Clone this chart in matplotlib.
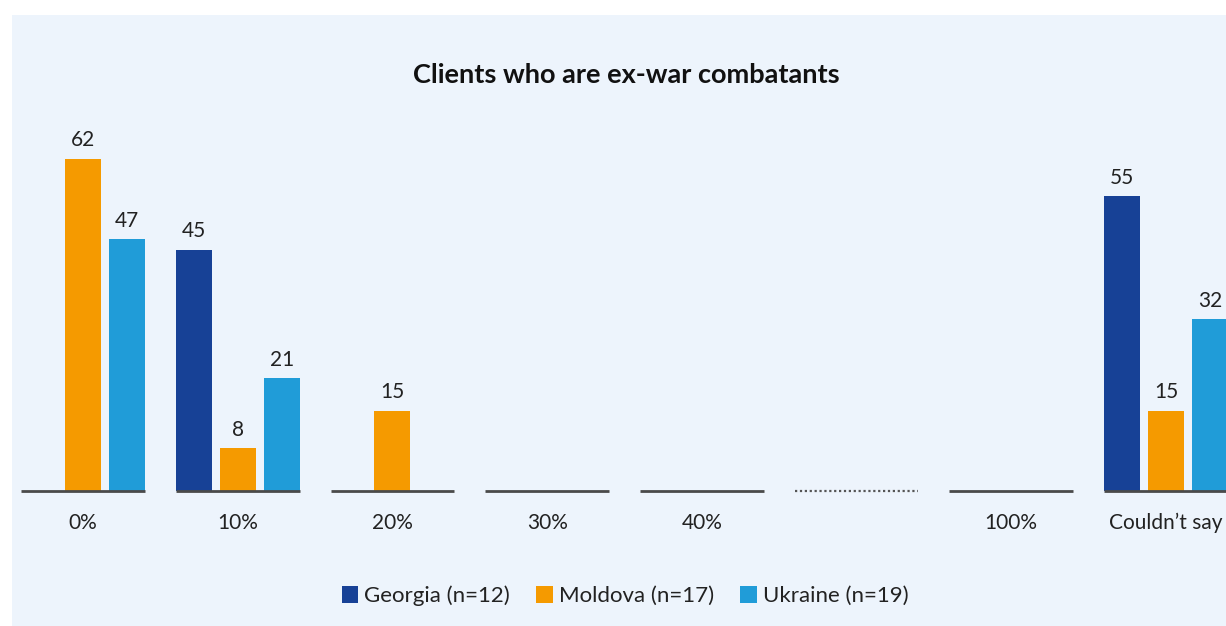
import matplotlib
matplotlib.use("Agg")
import matplotlib.pyplot as plt
from matplotlib.patches import Rectangle, Patch

categories = ["0%", "10%", "20%", "30%", "40%", "", "100%", "Couldn\u2019t say"]
gap_index = 5
georgia = [0, 45, 0, 0, 0, None, 0, 55]
moldova = [62, 8, 15, 0, 0, None, 0, 15]
ukraine = [47, 21, 0, 0, 0, None, 0, 32]
series = [("Georgia (n=12)", georgia, "#174196"),
          ("Moldova (n=17)", moldova, "#F59A00"),
          ("Ukraine (n=19)", ukraine, "#209CD8")]
title = "Clients who are ex-war combatants"

plt.rcParams['font.family'] = ['Lato', 'DejaVu Sans']

W, H = 1226, 626
fig = plt.figure(figsize=(W / 100, H / 100), dpi=100)
fig.patch.set_facecolor("white")
fig.add_artist(Rectangle((12 / W, 0), 1 - 12 / W, 611 / H, transform=fig.transFigure,
                         facecolor="#EDF4FC", edgecolor="none", zorder=0))

ax = fig.add_axes([0, 0, 1, 1])
ax.set_facecolor("none")
ax.axis("off")
c0, spacing = 83, 154.7
ax.set_xlim((0 - c0) / spacing, (W - c0) / spacing)
ppu = 5.36
base = 135
ax.set_ylim(-base / ppu, (H - base) / ppu)

bw = 0.232
off = 0.284
for gi, cat in enumerate(categories):
    left = gi - off - bw / 2
    right = gi + off + bw / 2
    if gi == gap_index:
        ax.plot([left, right], [0, 0], color="#555555", lw=1.6, ls=(0, (1, 1.2)), zorder=2)
    else:
        ax.plot([left, right], [0, 0], color="#4a4a4a", lw=2, solid_capstyle="butt", zorder=3)
        ax.text(gi, -6.0, cat, ha="center", va="center", fontsize=15, color="#222222")

for si, (name, vals, col) in enumerate(series):
    for gi, v in enumerate(vals):
        if v is None or v == 0:
            continue
        x = gi + (si - 1) * off
        ax.bar(x, v, width=bw, color=col, zorder=2)
        ax.annotate(str(v), (x, v), xytext=(0, 6), textcoords="offset points",
                    ha="center", va="bottom", fontsize=15, color="#222222")

fig.text(626 / W, 1 - 75 / H, title, ha="center", va="center", fontsize=19.5,
         fontweight="bold", color="#111111")

handles = [Patch(facecolor=c, edgecolor="none", label=n) for n, _, c in series]
fig.legend(handles=handles, loc="center", bbox_to_anchor=(625 / W, 1 - 596 / H), ncol=3,
           frameon=False, fontsize=16, handlelength=0.75, handleheight=0.75,
           handletextpad=0.25, columnspacing=1.2, labelcolor="#222222")

fig.savefig("out.png", dpi=100, facecolor="white")
